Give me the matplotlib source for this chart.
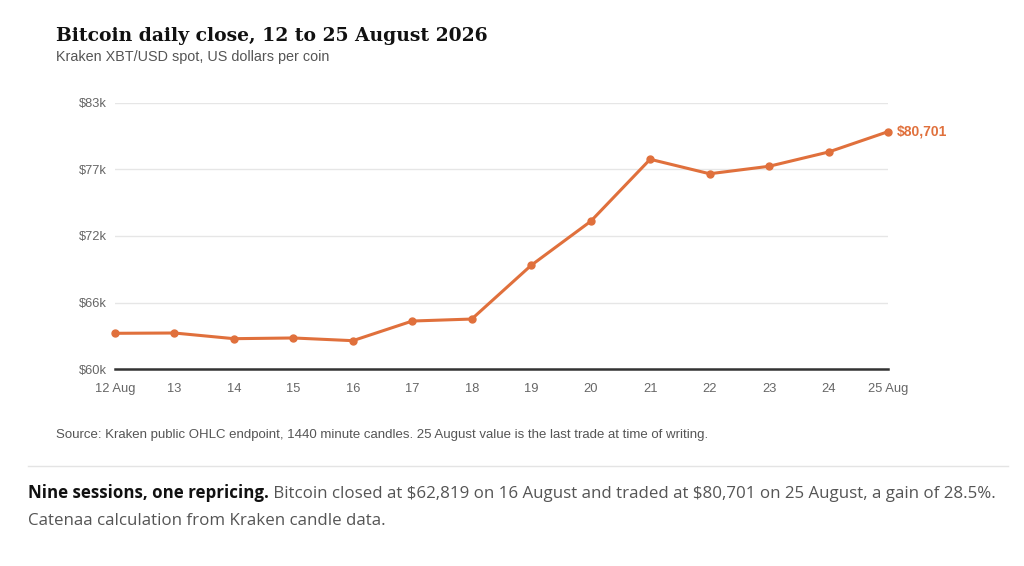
import matplotlib
matplotlib.use("Agg")
import matplotlib.pyplot as plt
import numpy as np

plt.rcParams["text.parse_math"] = False

# daily closes (16 and 25 Aug are stated in the text)
days = ["12 Aug", "13", "14", "15", "16", "17", "18", "19", "20", "21", "22", "23", "24", "25 Aug"]
close = [63450, 63475, 62990, 63050, 62819, 64500, 64670, 69270, 73030, 78340, 77100, 77740, 78960, 80701]
last_label = "$80,701"

title = "Bitcoin daily close, 12 to 25 August 2026"
subtitle = "Kraken XBT/USD spot, US dollars per coin"
source = "Source: Kraken public OHLC endpoint, 1440 minute candles. 25 August value is the last trade at time of writing."
note_bold = "Nine sessions, one repricing."
note_rest = " Bitcoin closed at $62,819 on 16 August and traded at $80,701 on 25 August, a gain of 28.5%."
note_line2 = "Catenaa calculation from Kraken candle data."

orange = "#e0703c"
sans = ["Liberation Sans", "DejaVu Sans"]

fig = plt.figure(figsize=(10.24, 5.66), dpi=100)
ax = fig.add_axes([115 / 1024, 1 - 369.3 / 566, 773 / 1024, 266.6 / 566])

x = np.arange(len(close))
ax.plot(x, close, color=orange, lw=2.2, marker="o", ms=5, clip_on=False, zorder=3)

ymin, ymax = 60370, 83180
ax.set_ylim(ymin, ymax)
ax.set_xlim(0, len(close) - 1)
yt = np.linspace(ymin, ymax, 5)
ax.set_yticks(yt)
ax.set_yticklabels(["$%dk" % round(v / 1000) for v in yt], fontfamily=sans, fontsize=9.3, color="#666666")
ax.set_xticks(x)
ax.set_xticklabels(days, fontfamily=sans, fontsize=9.3, color="#666666")
ax.tick_params(axis="y", length=0, pad=6)
ax.tick_params(axis="x", length=0, pad=10)
ax.grid(axis="y", color="#e6e6e6", lw=1)
ax.set_axisbelow(True)
for s in ["top", "right", "left"]:
    ax.spines[s].set_visible(False)
ax.spines["bottom"].set_color("#333333")
ax.spines["bottom"].set_linewidth(1.8)
ax.spines["bottom"].set_zorder(4)

ax.annotate(last_label, (x[-1], close[-1]), xytext=(6, 0), textcoords="offset points",
            va="center", ha="left", color=orange, fontsize=10, fontweight="bold",
            fontfamily=sans, annotation_clip=False)

fig.text(56 / 1024, 1 - 41 / 566, title, fontsize=13.5, fontweight="bold",
         fontfamily=["DejaVu Serif"], color="#111111", va="baseline")
fig.text(56 / 1024, 1 - 61 / 566, subtitle, fontsize=10.4, fontfamily=sans, color="#555555", va="baseline")
fig.text(56 / 1024, 1 - 438 / 566, source, fontsize=9.5, fontfamily=sans, color="#555555", va="baseline")

fig.add_artist(plt.Line2D([28 / 1024, 1008 / 1024], [1 - 466 / 566] * 2, color="#e4e4e4", lw=1))

body = ["Open Sans", "DejaVu Sans"]
t1 = fig.text(28 / 1024, 1 - 497.5 / 566, note_bold, fontsize=12.2, fontweight="bold",
              fontfamily=body, color="#111111", va="baseline")
ax.annotate(note_rest, xy=(1, 0), xycoords=t1, va="bottom", ha="left", fontsize=12.2,
            fontfamily=body, color="#555555", annotation_clip=False)
fig.text(28 / 1024, 1 - 525 / 566, note_line2, fontsize=12.2, fontfamily=body,
         color="#555555", va="baseline")

fig.savefig("out.png", dpi=100, facecolor="white")
